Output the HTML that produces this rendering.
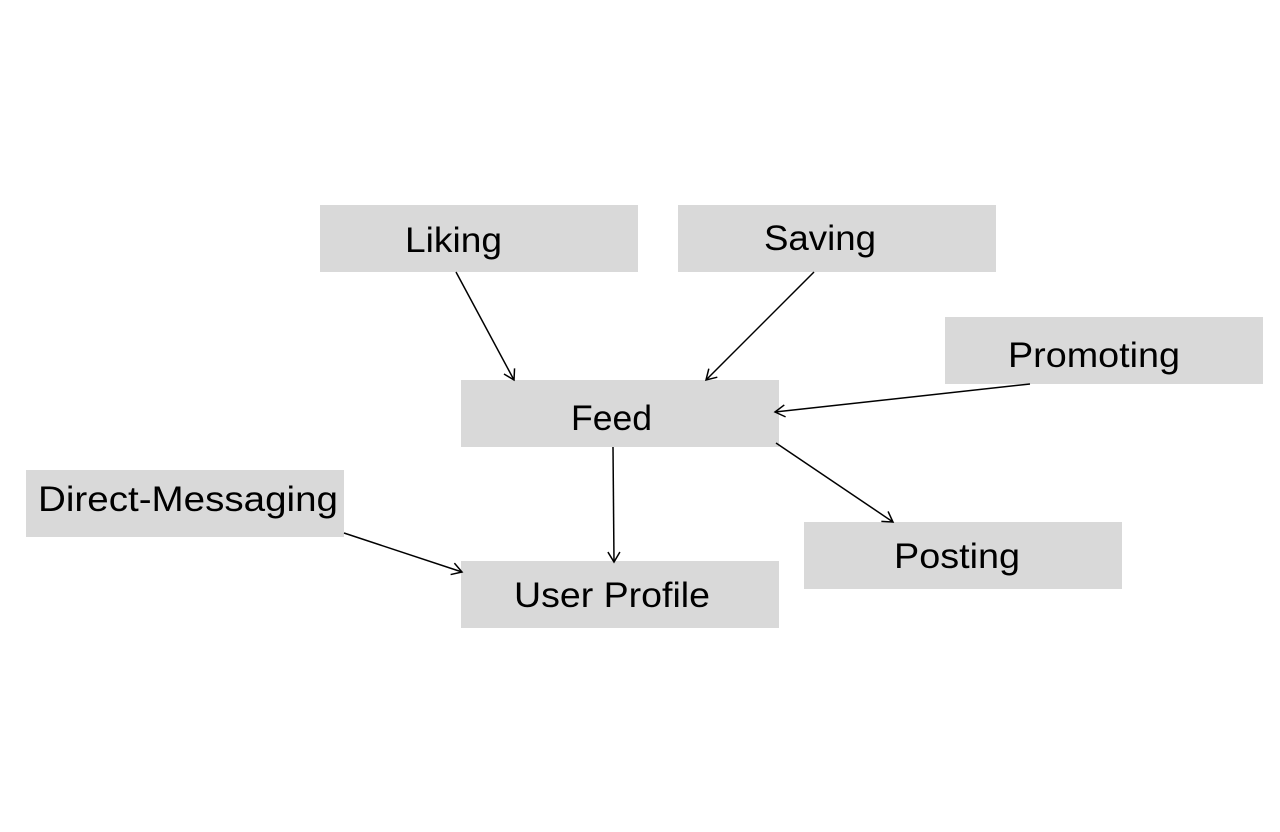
<!DOCTYPE html>
<html><head><meta charset="utf-8"><style>
html,body{margin:0;padding:0;background:#fff;}
svg{display:block;}
text{font-family:"Liberation Sans",sans-serif;font-size:35px;fill:#000;text-anchor:middle;}
</style></head><body>
<svg width="1280" height="832" viewBox="0 0 1280 832" xmlns="http://www.w3.org/2000/svg">
<defs>
<marker id="a" markerWidth="14" markerHeight="14" refX="11" refY="7" orient="auto" markerUnits="userSpaceOnUse">
<path d="M1,1 L11,7 L1,13" fill="none" stroke="#000" stroke-width="1.5"/>
</marker>
</defs>
<g fill="#d9d9d9">
<rect x="320" y="205" width="318" height="67"/>
<rect x="678" y="205" width="318" height="67"/>
<rect x="945" y="317" width="318" height="67"/>
<rect x="461" y="380" width="318" height="67"/>
<rect x="26" y="470" width="318" height="67"/>
<rect x="461" y="561" width="318" height="67"/>
<rect x="804" y="522" width="318" height="67"/>
</g>
<text x="453.5" y="252" textLength="97" lengthAdjust="spacingAndGlyphs">Liking</text>
<text x="820" y="250" textLength="112" lengthAdjust="spacingAndGlyphs">Saving</text>
<text x="1094" y="367" textLength="172" lengthAdjust="spacingAndGlyphs">Promoting</text>
<text x="611.5" y="430" textLength="81" lengthAdjust="spacingAndGlyphs">Feed</text>
<text x="188" y="511" textLength="300" lengthAdjust="spacingAndGlyphs">Direct-Messaging</text>
<text x="612" y="607" textLength="196" lengthAdjust="spacingAndGlyphs">User Profile</text>
<text x="957" y="568" textLength="126" lengthAdjust="spacingAndGlyphs">Posting</text>
<g stroke="#000" stroke-width="1.5" fill="none" marker-end="url(#a)">
<line x1="456" y1="272" x2="514" y2="380"/>
<line x1="814" y1="272" x2="706" y2="380"/>
<line x1="1030" y1="384" x2="775" y2="412"/>
<line x1="613" y1="447" x2="614" y2="562"/>
<line x1="776" y1="443" x2="893" y2="522"/>
<line x1="344" y1="533" x2="462" y2="572"/>
</g>
</svg>
</body></html>
